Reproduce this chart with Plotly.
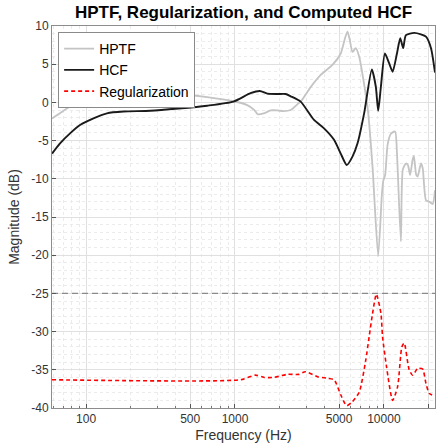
import math
import plotly.graph_objects as go

# ---------------- data ----------------
hptf_freq = [59, 66, 74, 85, 96, 124, 161, 243, 418, 650, 977, 1208, 1350, 1420, 1556,
             1734, 1920, 2121, 2365, 2677, 2761, 3223, 3764, 4514, 5131, 5500, 5696, 5900,
             6152, 6479, 6820, 7766, 8390, 9155, 9700, 9900, 10200, 10600, 11150, 11900,
             12240, 13010, 13400, 14060, 14500, 15000, 15600, 15900, 16500, 16860, 17750,
             18230, 19180, 20190, 21280, 22040]
hptf_db = [-2.1, -1.5, -0.8, -0.2, 0.2, 0.8, 1.1, 1.3, 1.1, 0.7, 0.15, -0.35, -1.0, -1.55, -1.45,
           -1.05, -1.05, -1.15, -1.0, -0.1, 0.1, 2.0, 3.6, 4.9, 6.4, 8.5, 9.25, 8.2,
           6.6, 7.1, 6.0, -0.6, -8.4, -20.1, -12.0, -10.3, -9.5, -5.5, -4.1, -3.8,
           -6.6, -18.2, -8.8, -8.0, -8.2, -9.5, -7.5, -7.0, -9.5, -9.7, -8.0,
           -8.6, -12.8, -13.0, -13.3, -11.5]

hcf_freq = [59, 66.8, 78, 91, 112, 138, 178, 270, 418, 650, 977, 1271, 1469, 1648, 1923,
            2188, 2365, 2761, 3395, 3963, 4627, 5131, 5634, 6152, 6655, 7369, 8300, 8830,
            9155, 9550, 10160, 10860, 11450, 12240, 12880, 13480, 14060, 15990, 17750,
            19180, 20730, 22050]
hcf_db = [-6.7, -5.35, -4.05, -2.96, -2.08, -1.43, -1.2, -1.1, -0.8, -0.43, 0.1, 1.2, 1.5, 1.15, 1.1,
          1.1, 0.8, 0.1, -2.3, -3.4, -4.9, -6.7, -8.2, -7.1, -5.35, -1.43, 4.3, 2.05,
          -1.1, 2.05, 6.4, 5.1, 4.0, 6.4, 8.4, 7.1, 8.8, 9.1, 8.9,
          8.6, 7.1, 3.9]

reg_freq = [59, 1090, 1370, 1570, 1830, 2240, 2680, 2970, 3580, 4150, 4630, 5140, 5620,
            6130, 6840, 7560, 7960, 8400, 8900, 9550, 9800, 10420, 11450, 12370, 13210,
            13700, 14790, 15600, 16860, 17200, 18230, 19180, 20190, 22050]
reg_db = [-36.3, -36.3, -35.7, -36.0, -36.0, -35.6, -35.6, -35.25, -35.9, -36.1, -36.3, -38.3, -39.7,
          -39.2, -37.9, -33.7, -30.7, -27.6, -25.1, -27.6, -30.7, -34.6, -39.0, -37.2, -32.0,
          -31.5, -35.0, -35.7, -34.8, -34.8, -34.9, -36.8, -38.1, -38.4]

reg_limit_db = -25
freq_range = [59, 22050]

x_tickvals = [100, 500, 1000, 5000, 10000, 20000]
x_ticktext = ["100", "500", "1000", "5000", "10000", "20000"]
y_tickvals = [10, 5, 0, -5, -10, -15, -20, -25, -30, -35, -40]
y_ticktext = ["10", "5", "0", "-5", "-10", "-15", "-20", "-25", "-30", "-35", "-40"]

x_minor = [m * 10 ** d for d in range(1, 5) for m in range(1, 10)
           if freq_range[0] <= m * 10 ** d <= freq_range[1]]

FONT = "Liberation Sans, Arial, Helvetica, sans-serif"

fig = go.Figure()
fig.add_trace(go.Scatter(x=freq_range, y=[reg_limit_db, reg_limit_db], mode="lines",
                         line=dict(color="#8a8a8a", width=1.2, dash="6px,4px"),
                         showlegend=False, hoverinfo="skip"))
fig.add_trace(go.Scatter(x=hptf_freq, y=hptf_db, mode="lines", name="HPTF",
                         line=dict(color="#c4c4c4", width=1.8, shape="spline", smoothing=0.6)))
fig.add_trace(go.Scatter(x=hcf_freq, y=hcf_db, mode="lines", name="HCF",
                         line=dict(color="#1a1a1a", width=1.9, shape="spline", smoothing=0.6)))
fig.add_trace(go.Scatter(x=reg_freq, y=reg_db, mode="lines", name="Regularization",
                         line=dict(color="#ff0000", width=1.6, dash="4px,3px", shape="spline",
                                   smoothing=0.6)))

fig.update_layout(
    width=443, height=448,
    margin=dict(l=52, r=8, t=26, b=40),
    paper_bgcolor="white", plot_bgcolor="white",
    font=dict(family=FONT, size=12, color="#333333"),
    title=dict(text="<b>HPTF, Regularization, and Computed HCF</b>",
               x=0.5, xref="paper", xanchor="center",
               y=1 - 12 / 448, yref="container", yanchor="middle",
               font=dict(size=17, color="#000000", family=FONT)),
    legend=dict(x=0.016, y=0.984, xanchor="left", yanchor="top",
                bgcolor="white", bordercolor="#8a8a8a", borderwidth=1,
                font=dict(size=14, color="#000000", family=FONT),
                itemwidth=30, tracegroupgap=0),
    showlegend=True,
)

fig.update_xaxes(
    type="log", range=[math.log10(freq_range[0]), math.log10(freq_range[1])],
    tickvals=x_tickvals, ticktext=x_ticktext,
    ticks="inside", ticklen=4, tickcolor="#555555",
    showgrid=True, gridcolor="#e0e0e0", gridwidth=1,
    showline=True, linecolor="#8c8c8c", linewidth=1, mirror=True,
    zeroline=False,
    tickfont=dict(size=12, color="#333333"),
    title=dict(text="Frequency (Hz)", font=dict(size=14, color="#333333"), standoff=4),
    minor=dict(tickvals=x_minor, ticks="inside", ticklen=2, tickcolor="#777777",
               showgrid=True, gridcolor="#ebebeb", griddash="dot", gridwidth=1),
)
fig.update_yaxes(
    range=[-40, 10],
    tickvals=y_tickvals, ticktext=y_ticktext,
    ticks="inside", ticklen=4, tickcolor="#555555",
    showgrid=True, gridcolor="#e0e0e0", gridwidth=1,
    showline=True, linecolor="#8c8c8c", linewidth=1, mirror=True,
    zeroline=False,
    tickfont=dict(size=12, color="#333333"),
    title=dict(text="Magnitude (dB)", font=dict(size=14, color="#333333"), standoff=8),
    minor=dict(dtick=1, ticks="", showgrid=True, gridcolor="#ebebeb",
               griddash="dot", gridwidth=1),
)

fig.write_html("out.html", config={"displayModeBar": False},
               post_script="document.body.style.margin='0';")
